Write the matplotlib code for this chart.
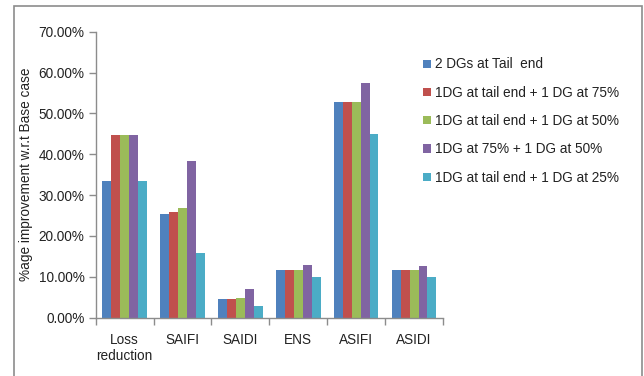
import matplotlib.pyplot as plt
import numpy as np
from matplotlib.patches import Rectangle
from matplotlib.ticker import FuncFormatter

plt.rcParams['font.family'] = ['Liberation Sans', 'DejaVu Sans']

# Reliability / loss indices
categories = ["Loss\nreduction", "SAIFI", "SAIDI", "ENS", "ASIFI", "ASIDI"]

# %age improvement for each DG placement case
two_dgs_tail = [33.45, 25.5, 4.65, 11.75, 52.8, 11.75]
tail_75 = [44.6, 25.9, 4.65, 11.75, 52.8, 11.75]
tail_50 = [44.6, 26.8, 4.9, 11.75, 52.8, 11.75]
dg75_50 = [44.6, 38.3, 6.95, 12.8, 57.4, 12.75]
tail_25 = [33.45, 15.8, 2.9, 10.0, 44.9, 10.0]

series_names = ["2 DGs at Tail  end",
                "1DG at tail end + 1 DG at 75%",
                "1DG at tail end + 1 DG at 50%",
                "1DG at 75% + 1 DG at 50%",
                "1DG at tail end + 1 DG at 25%"]
colors = ["#4f81bd", "#c0504d", "#9bbb59", "#8064a2", "#4bacc6"]

series = [two_dgs_tail, tail_75, tail_50, dg75_50, tail_25]

fs = 9.8
fig = plt.figure(figsize=(6.44, 3.76), dpi=100)
ax = fig.add_axes([95.7 / 644, 1 - 317.7 / 376, (443 - 95.7) / 644, (317.7 - 31.7) / 376])

x = np.arange(len(categories))
bw = 0.154
for i, (vals, name, c) in enumerate(zip(series, series_names, colors)):
    ax.bar(x + (i - 2) * bw, vals, width=bw, color=c, label=name, zorder=2)

ax.set_xlim(-0.5, len(categories) - 0.5)
ax.set_ylim(0, 70)
ax.set_yticks(np.arange(0, 71, 10))
ax.yaxis.set_major_formatter(FuncFormatter(lambda v, p: f"{v:.2f}%"))
ax.set_xticks(x)
ax.set_xticklabels(categories, linespacing=1.2)
ax.set_xticks(np.arange(-0.5, len(categories), 1), minor=True)

ax.tick_params(axis='x', which='major', length=0, pad=11, labelsize=fs, labelcolor='#222222')
ax.tick_params(axis='x', which='minor', length=5, color='#8c8c8c', width=1)
ax.tick_params(axis='y', length=5, color='#8c8c8c', width=1, pad=3, labelsize=fs, labelcolor='#222222')

for s in ['top', 'right']:
    ax.spines[s].set_visible(False)
for s in ['left', 'bottom']:
    ax.spines[s].set_color('#8c8c8c')
    ax.spines[s].set_linewidth(1)

ax.set_ylabel("%age improvement w.r.t Base case", fontsize=fs, color='#222222')
ax.yaxis.set_label_coords(-0.18, 0.5)

leg = ax.legend(loc='upper left', bbox_to_anchor=(418 / 644, 1 - 52 / 376),
                bbox_transform=fig.transFigure, frameon=False, fontsize=fs,
                handlelength=0.55, handleheight=0.55, handletextpad=0.3,
                labelspacing=1.05, borderaxespad=0)
for t in leg.get_texts():
    t.set_color('#222222')

# chart border (open at the bottom)
fig.patches.append(Rectangle((13.5 / 644, -0.05), (642 - 13.5) / 644, 1.05 - 6 / 376,
                             transform=fig.transFigure, fill=False,
                             edgecolor='#8c8c8c', linewidth=1.2))

fig.savefig("out.png", dpi=100)
